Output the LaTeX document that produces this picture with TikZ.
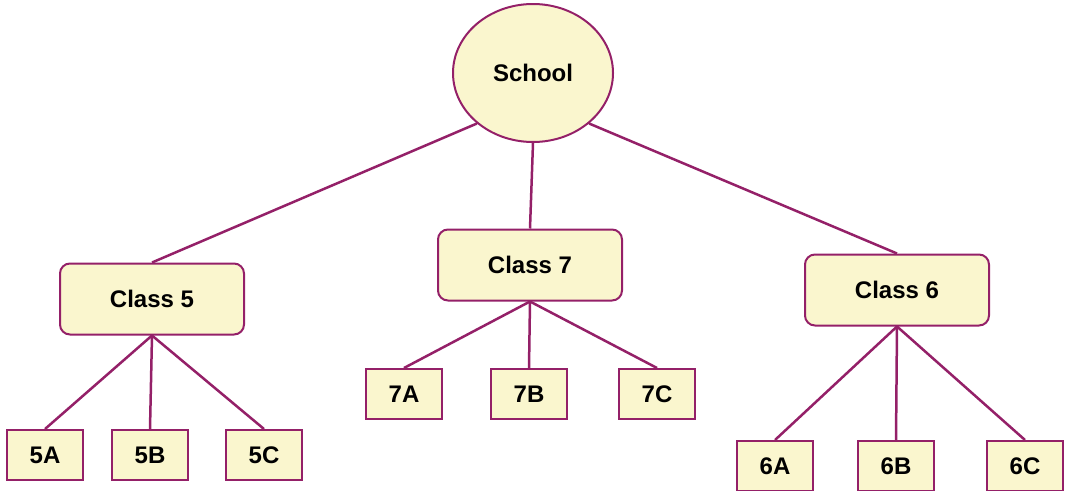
\documentclass[tikz,border=0pt]{standalone}
\usepackage{fontspec}
\setmainfont{Liberation Sans}
\usetikzlibrary{shapes.geometric}
\definecolor{paleyellow}{RGB}{250,246,206}
\definecolor{plumline}{RGB}{148,32,104}

\begin{document}
\begin{tikzpicture}[x=1pt, y=-1pt,
    every node/.style={font=\fontsize{24}{28}\selectfont\bfseries, draw=plumline, line width=2pt, fill=paleyellow, inner sep=0pt},
    schoolnode/.style={ellipse, minimum width=160pt, minimum height=138pt},
    classbox/.style={rectangle, rounded corners=10pt, minimum width=184pt, minimum height=71pt},
    sectionbox/.style={rectangle, minimum width=76pt, minimum height=50pt},
    link/.style={draw=plumline, line width=2.5pt}]
    \useasboundingbox (0,0) rectangle (1068,490);

    % Root node
    \node[schoolnode] (school) at (533,73) {School};

    % Class nodes
    \node[classbox] (c5) at (152,299) {Class 5};
    \node[classbox] (c7) at (530,265) {Class 7};
    \node[classbox] (c6) at (897,290) {Class 6};

    % Section nodes of class 5
    \node[sectionbox] (s5a) at (45,455) {5A};
    \node[sectionbox] (s5b) at (150,455) {5B};
    \node[sectionbox] (s5c) at (264,455) {5C};

    % Section nodes of class 7
    \node[sectionbox] (s7a) at (404,394) {7A};
    \node[sectionbox] (s7b) at (529,394) {7B};
    \node[sectionbox] (s7c) at (657,394) {7C};

    % Section nodes of class 6
    \node[sectionbox] (s6a) at (775,466) {6A};
    \node[sectionbox] (s6b) at (896,466) {6B};
    \node[sectionbox] (s6c) at (1025,466) {6C};

    % Links from school
    \draw[link] (school.222) -- (c5.north);
    \draw[link] (school.south) -- (c7.north);
    \draw[link] (school.-42) -- (c6.north);

    % Links from classes
    \foreach \c/\a/\b/\d in {c5/s5a/s5b/s5c, c7/s7a/s7b/s7c, c6/s6a/s6b/s6c} {
        \draw[link] (\c.south) -- (\a.north);
        \draw[link] (\c.south) -- (\b.north);
        \draw[link] (\c.south) -- (\d.north);
    }
\end{tikzpicture}
\end{document}
